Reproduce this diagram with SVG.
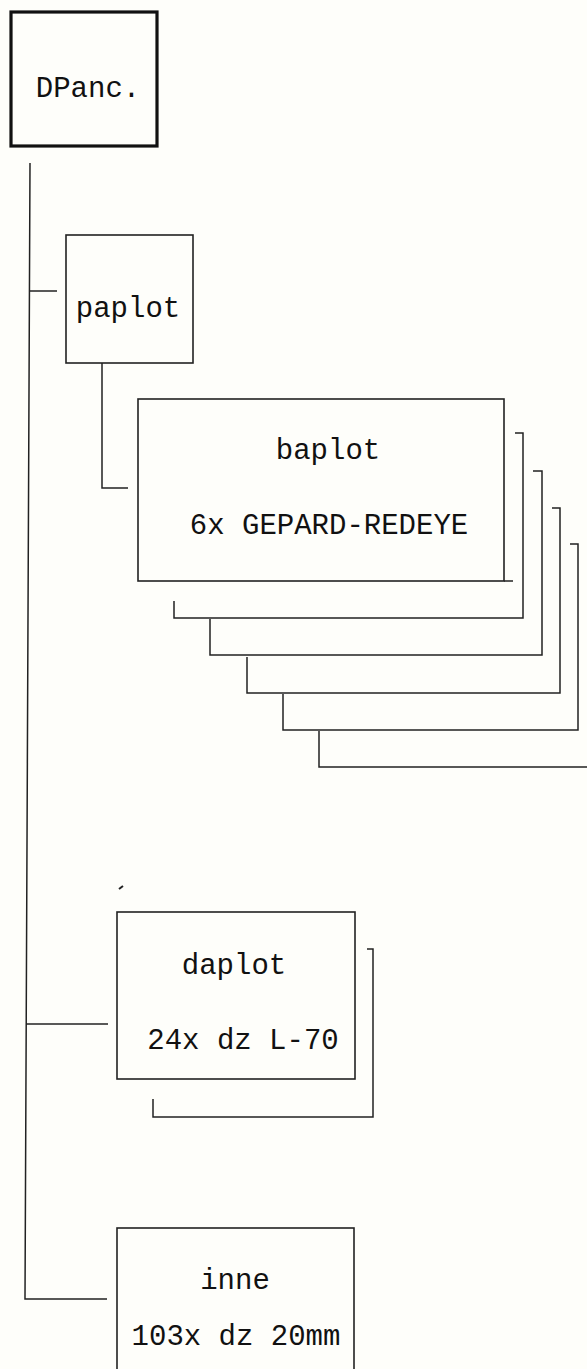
<svg xmlns="http://www.w3.org/2000/svg" width="587" height="1369" viewBox="0 0 587 1369">
<style>
.bx{fill:none;stroke:#222;stroke-width:1.6}
.ln{fill:none;stroke:#222;stroke-width:1.5}
.t{font-family:"Liberation Mono","DejaVu Sans Mono",monospace;font-size:29px;fill:#111;text-anchor:middle}
</style>
<rect width="587" height="1369" fill="#fefefa"/>
<g id="connectors">
<path class="ln" d="M30,163 L25,1299 L107,1299"/>
<path class="ln" d="M30,291 L57,291"/>
<path class="ln" d="M102,363 L102,488 L128,488"/>
<path class="ln" d="M26,1024 L108,1024"/>
</g>
<g id="DPanc">
<rect x="11" y="12" width="146" height="134" fill="none" stroke="#111" stroke-width="3.2"/>
<text class="t" x="88" y="97" font-size="27">DPanc.</text>
</g>
<g id="paplot">
<rect class="bx" x="66" y="235" width="127" height="128"/>
<text class="t" x="128" y="317">paplot</text>
</g>
<g id="baplot">
<path class="ln" d="M515,433 L523,433 L523,618 L174,618 L174,601"/>
<path class="ln" d="M533,471 L542,471 L542,655 L210,655 L210,619"/>
<path class="ln" d="M552,508 L560,508 L560,693 L247,693 L247,657"/>
<path class="ln" d="M570,544 L578,544 L578,730 L283,730 L283,694"/>
<path class="ln" d="M587,767 L319,767 L319,731"/>
<rect class="bx" x="138" y="399" width="366" height="182" fill="#fefefa"/>
<path class="ln" d="M504,581 L513,581"/>
<text class="t" x="328" y="459">baplot</text>
<text class="t" x="329" y="534" font-size="30">6x GEPARD-REDEYE</text>
</g>
<g id="daplot">
<path class="ln" d="M367,949 L373,949 L373,1117 L153,1117 L153,1099"/>
<rect class="bx" x="117" y="912" width="238" height="167"/>
<text class="t" x="234" y="974">daplot</text>
<text class="t" x="243" y="1049" font-size="30">24x dz L-70</text>
<path d="M119,889 L123,886" stroke="#222" stroke-width="2"/>
</g>
<g id="inne">
<rect class="bx" x="117" y="1228" width="237" height="160"/>
<text class="t" x="235" y="1289">inne</text>
<text class="t" x="236" y="1345" font-size="30">103x dz 20mm</text>
</g>
</svg>
